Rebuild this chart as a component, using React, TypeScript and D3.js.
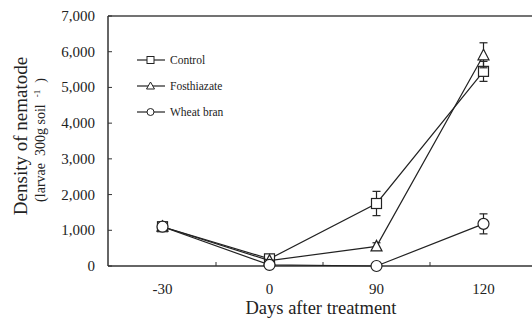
import React from "react";
import * as d3 from "d3";

const categories = ["-30", "0", "90", "120"];
const controlValues = [1100, 200, 1750, 5450];
const controlErrors = [60, 60, 340, 280];
const fosthiazateValues = [1100, 150, 550, 5900];
const fosthiazateErrors = [50, 40, 100, 350];
const wheatBranValues = [1100, 30, 0, 1180];
const wheatBranErrors = [50, 30, 0, 280];
const yTicks = [0, 1000, 2000, 3000, 4000, 5000, 6000, 7000];
const legendLabels = ["Control", "Fosthiazate", "Wheat bran"];

const W = 532, H = 320;
const left = 108, top = 16, right = 537, bottom = 266;

export default function App() {
  const x = d3.scaleBand().domain(categories).range([left + 1, right]);
  const y = d3.scaleLinear().domain([0, 7000]).range([bottom, top]);
  const cx = (c: string) => (x(c) as number) + x.bandwidth() / 2;
  const line = d3.line<number>().x((_, i) => cx(categories[i])).y((v) => y(v));
  const font = "'Liberation Serif', 'Times New Roman', serif";

  const series = [
    { name: legendLabels[0], vals: controlValues, errs: controlErrors, shape: "square" },
    { name: legendLabels[1], vals: fosthiazateValues, errs: fosthiazateErrors, shape: "triangle" },
    { name: legendLabels[2], vals: wheatBranValues, errs: wheatBranErrors, shape: "circle" },
  ];

  const marker = (shape: string, px: number, py: number, key: string) => {
    if (shape === "square")
      return <rect key={key} x={px - 5} y={py - 5} width={10} height={10} fill="white" stroke="#222" strokeWidth={1.2} />;
    if (shape === "triangle")
      return <path key={key} d={`M${px},${py - 6}L${px + 5.5},${py + 4.5}L${px - 5.5},${py + 4.5}Z`} fill="white" stroke="#222" strokeWidth={1.2} />;
    return <circle key={key} cx={px} cy={py} r={5.5} fill="white" stroke="#222" strokeWidth={1.2} />;
  };

  const boundaries = categories.slice(1).map((c) => x(c) as number);

  return (
    <svg width={W} height={H} style={{ position: "absolute", left: 0, top: 0, background: "white" }}>
      <rect x={0} y={0} width={W} height={H} fill="white" />
      {/* frame */}
      <line x1={left} y1={top} x2={W} y2={top} stroke="#444" strokeWidth={1.5} />
      <line x1={left} y1={top} x2={left} y2={bottom} stroke="#333" strokeWidth={1.5} />
      <line x1={left} y1={bottom} x2={W} y2={bottom} stroke="#333" strokeWidth={1.5} />
      {/* y ticks */}
      {yTicks.map((t) => (
        <g key={t}>
          <line x1={left} x2={left + 4} y1={y(t)} y2={y(t)} stroke="#333" strokeWidth={1} />
          <text x={95} y={y(t) + 5} textAnchor="end" fontFamily={font} fontSize={15} fill="#222">
            {d3.format(",")(t)}
          </text>
        </g>
      ))}
      {/* x ticks */}
      {boundaries.map((b, i) => (
        <line key={i} x1={b} x2={b} y1={bottom} y2={bottom - 4} stroke="#333" strokeWidth={1} />
      ))}
      {categories.map((c) => (
        <text key={c} x={cx(c)} y={294} textAnchor="middle" fontFamily={font} fontSize={15} fill="#222">
          {c}
        </text>
      ))}
      {/* axis titles */}
      <text x={321} y={314} textAnchor="middle" fontFamily={font} fontSize={18.5} fill="#222">
        Days after treatment
      </text>
      <text transform="translate(27,136) rotate(-90)" textAnchor="middle" fontFamily={font} fontSize={19} fill="#222">
        Density of nematode
      </text>
      <text transform="translate(45,140) rotate(-90)" textAnchor="middle" fontFamily={font} fontSize={14} fill="#222">
        (larvae{"\u00a0\u00a0"}300g soil{"\u00a0\u00a0"}<tspan dy={-5} fontSize={9}>-1</tspan><tspan dy={5}>{"\u00a0\u00a0"})</tspan>
      </text>
      {/* series */}
      {series.map((s) => (
        <g key={s.name}>
          <path d={line(s.vals) || ""} fill="none" stroke="#222" strokeWidth={1.2} />
          {s.vals.map((v, i) =>
            s.errs[i] > 70 ? (
              <g key={i}>
                <line x1={cx(categories[i])} x2={cx(categories[i])} y1={y(v + s.errs[i])} y2={y(v - s.errs[i])} stroke="#222" strokeWidth={1.2} />
                <line x1={cx(categories[i]) - 4} x2={cx(categories[i]) + 4} y1={y(v + s.errs[i])} y2={y(v + s.errs[i])} stroke="#222" strokeWidth={1.2} />
                <line x1={cx(categories[i]) - 4} x2={cx(categories[i]) + 4} y1={y(v - s.errs[i])} y2={y(v - s.errs[i])} stroke="#222" strokeWidth={1.2} />
              </g>
            ) : null
          )}
          {s.vals.map((v, i) => marker(s.shape, cx(categories[i]), y(v), s.name + i))}
        </g>
      ))}
      {/* legend */}
      {series.map((s, i) => {
        const ly = 60 + i * 26;
        return (
          <g key={s.name}>
            <line x1={137} x2={165} y1={ly} y2={ly} stroke="#222" strokeWidth={1.2} />
            {s.shape === "square" ? (
              <rect x={147} y={ly - 3.5} width={7} height={7} fill="white" stroke="#222" strokeWidth={1} />
            ) : s.shape === "triangle" ? (
              <path d={`M150.5,${ly - 4}L154.5,${ly + 3}L146.5,${ly + 3}Z`} fill="white" stroke="#222" strokeWidth={1} />
            ) : (
              <circle cx={150.5} cy={ly} r={3.5} fill="white" stroke="#222" strokeWidth={1} />
            )}
            <text x={170} y={ly + 4} fontFamily={font} fontSize={11.5} fill="#222">
              {s.name}
            </text>
          </g>
        );
      })}
    </svg>
  );
}
